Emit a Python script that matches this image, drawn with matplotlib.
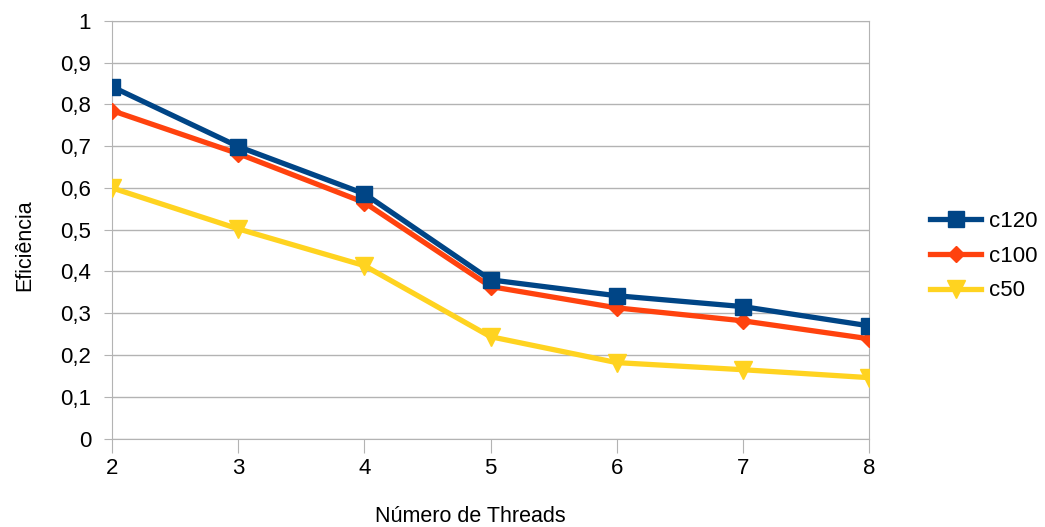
import matplotlib.pyplot as plt
from matplotlib.ticker import FuncFormatter

plt.rcParams['font.family'] = ['Liberation Sans', 'DejaVu Sans']

threads = [2, 3, 4, 5, 6, 7, 8]
c120 = [0.842, 0.699, 0.586, 0.380, 0.342, 0.316, 0.270]
c100 = [0.785, 0.682, 0.565, 0.364, 0.313, 0.282, 0.239]
c50 = [0.600, 0.502, 0.414, 0.244, 0.182, 0.165, 0.146]

fig = plt.figure(figsize=(10.45, 5.27), dpi=100)
ax = fig.add_axes([0.1072, 0.1676, 0.7244, 0.7931])

ax.plot(threads, c120, color='#004586', lw=3.8, marker='s', ms=11.5, label='c120', zorder=5)
ax.plot(threads, c100, color='#ff420e', lw=3.8, marker='D', ms=8.5, label='c100', zorder=4)
ax.plot(threads, c50, color='#ffd320', lw=3.8, marker='v', ms=13, label='c50', zorder=3)

ax.set_xlim(2, 8)
ax.set_ylim(0, 1)
ax.set_xticks(threads)
ax.set_yticks([i / 10 for i in range(11)])
ax.yaxis.set_major_formatter(FuncFormatter(lambda v, p: ('%g' % round(v, 1)).replace('.', ',')))
ax.grid(axis='y', color='#b3b3b3', lw=1)
ax.set_axisbelow(True)
for s in ax.spines.values():
    s.set_color('#b3b3b3')
ax.tick_params(axis='y', length=6, color='#b3b3b3', labelsize=16, pad=9)
ax.tick_params(axis='x', length=10, color='#b3b3b3', labelsize=16, pad=4)

ax.set_xlabel('Número de Threads', fontsize=15.5, labelpad=19, x=0.473)
ax.set_ylabel('Eficiência', fontsize=15.5, labelpad=18, y=0.463)

fig.legend(loc='center left', bbox_to_anchor=(0.89, 0.514), frameon=False,
           fontsize=16, handlelength=2.3, labelspacing=0.62, handletextpad=0.35,
           borderaxespad=0, borderpad=0)

fig.savefig('out.png')
